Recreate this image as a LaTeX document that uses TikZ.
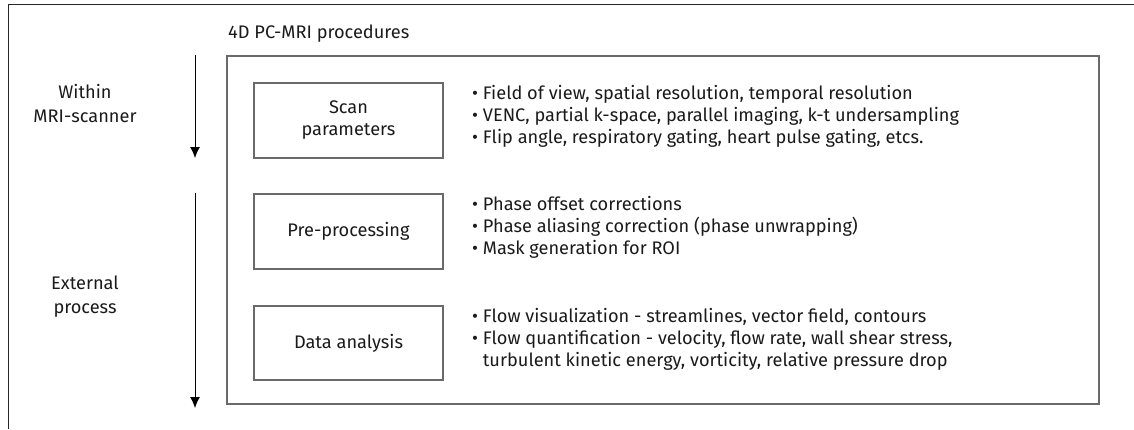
\documentclass[tikz,border=0pt]{standalone}
\usepackage{fontspec}
\setmainfont{Fira Sans}
\usetikzlibrary{arrows.meta}
\definecolor{txt}{HTML}{1A1A1A}
\definecolor{boxline}{HTML}{6A6A6A}
\begin{document}
\begin{tikzpicture}[x=1pt,y=-1pt,
  font=\fontsize{18.2}{22}\selectfont,
  every node/.style={text=txt},
  stepbox/.style={draw=boxline, line width=1.2pt, minimum width=189, minimum height=75, align=center, inner sep=0pt},
  bigbox/.style={draw=boxline, line width=1.2pt, minimum width=872, minimum height=348, inner sep=0pt},
  listtext/.style={align=left, anchor=west, inner sep=0pt},
  sidelabel/.style={align=center, inner sep=0pt, font=\fontsize{18.2}{24}\selectfont},
  flow/.style={draw=black, line width=1pt, -{Latex[length=11pt,width=10pt]}},
  frameline/.style={draw=black!85, line width=1pt}]
\useasboundingbox (0,0) rectangle (1134,429);

% open outer frame
\coordinate (fbl) at (8,429);
\coordinate (ftl) at (8,4);
\coordinate (ftr) at (1134,4);
\draw[frameline] (fbl) -- (ftl) -- (ftr);

% title
\node[anchor=base west, inner sep=0pt] (title) at (228,38) {4D PC-MRI procedures};

% big box
\node[bigbox] (big) at (663,230) {};

% step boxes
\node[stepbox] (scan) at (348.5,120.5) {Scan\\parameters};
\node[stepbox] (pre) at (348.5,231.5) {Pre-processing};
\node[stepbox, minimum height=74] (data) at (348.5,343) {Data analysis};

% lists
\node[listtext] (l1) at (472,116) {• Field of view, spatial resolution, temporal resolution\\• VENC, partial k-space, parallel imaging, k-t undersampling\\• Flip angle, respiratory gating, heart pulse gating, etcs.};
\node[listtext] (l2) at (472,227) {• Phase offset corrections\\• Phase aliasing correction (phase unwrapping)\\• Mask generation for ROI};
\node[listtext] (l3) at (472,339) {• Flow visualization - streamlines, vector field, contours\\• Flow quantification - velocity, flow rate, wall shear stress,\\\phantom{• }turbulent kinetic energy, vorticity, relative pressure drop};

% side labels
\node[sidelabel] (within) at (85,104) {Within\\MRI-scanner};
\node[sidelabel] (external) at (85,297) {External\\process};

% arrows
\coordinate (a1s) at (195,55);
\coordinate (a1e) at (195,158);
\coordinate (a2s) at (195,193);
\coordinate (a2e) at (195,408);
\draw[flow] (a1s) -- (a1e);
\draw[flow] (a2s) -- (a2e);
\end{tikzpicture}
\end{document}
